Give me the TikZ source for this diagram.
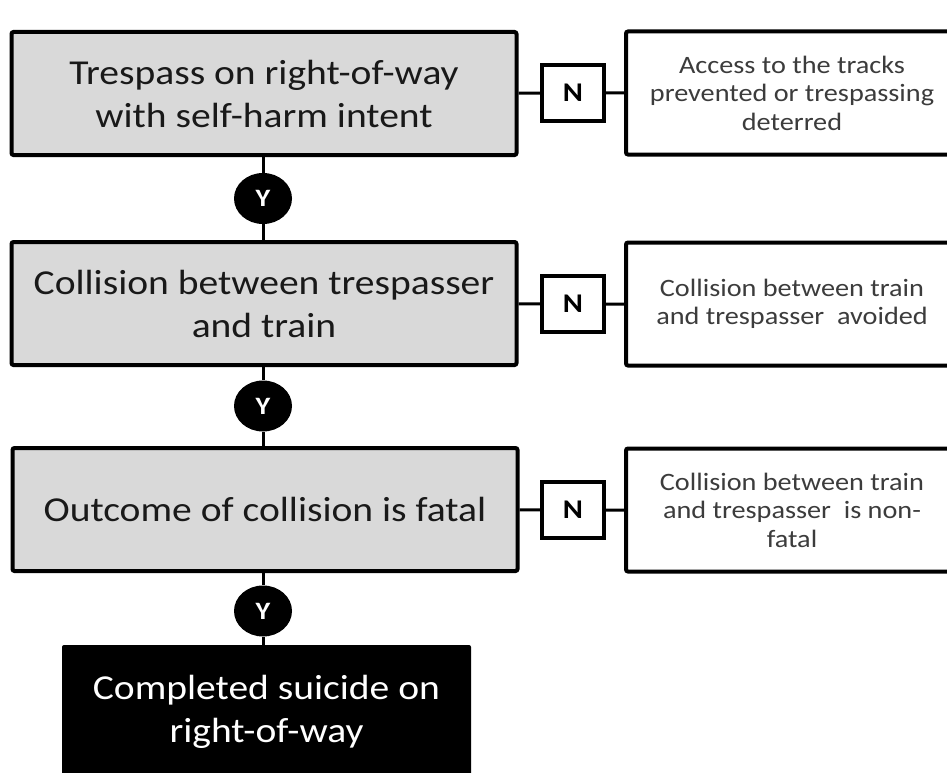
\documentclass[tikz,border=0pt]{standalone}
\usepackage{fontspec}
\setmainfont{Carlito}[FakeStretch=1.13]
\usetikzlibrary{shapes.geometric}
\definecolor{boxgray}{HTML}{D9D9D9}
\definecolor{sidetext}{HTML}{3C3C3C}
\tikzset{
  graybox/.style={rectangle,draw=black,fill=boxgray,line width=4pt,rounded corners=2pt,
    minimum width=505pt,minimum height=123pt,align=center,text=black!90,
    font=\fontsize{35}{43}\selectfont},
  sidebox/.style={rectangle,draw=black,fill=white,line width=4pt,rounded corners=2pt,
    minimum width=332pt,minimum height=123pt,align=center,text=sidetext,
    font=\fontsize{25}{28.5}\selectfont},
  nbox/.style={rectangle,draw=black,fill=white,line width=4pt,
    minimum width=62pt,minimum height=56pt,inner sep=0pt,
    font=\fontsize{27}{30}\selectfont\bfseries},
  ybox/.style={ellipse,fill=black,text=white,minimum width=58pt,minimum height=51pt,
    inner sep=0pt,font=\fontsize{25}{29}\selectfont\bfseries},
  endbox/.style={rectangle,fill=black,text=white,rounded corners=2pt,
    minimum width=409pt,minimum height=134pt,align=center,
    font=\fontsize{35}{43}\selectfont},
  link/.style={line width=3pt}
}
\begin{document}
\begin{tikzpicture}[x=1pt,y=-1pt]
\useasboundingbox[fill=white] (0,0) rectangle (947,773);
% main steps
\node (t1) [graybox] at (264,93.5) {Trespass on right-of-way\\with self-harm intent};
\node (t2) [graybox] at (264,303.5) {Collision between trespasser\\and train};
\node (t3) [graybox] at (265,509.5) {Outcome of collision is fatal};
\node (done) [endbox] at (266.5,712) {Completed suicide on\\right-of-way};
%
\node (n1) [nbox] at (573,93) {N};
\node (n2) [nbox] at (573,304) {N};
\node (n3) [nbox] at (573,510) {N};
%
\node (s1) [sidebox] at (792,93) {Access to the tracks\\prevented or trespassing\\deterred};
\node (s2) [sidebox] at (792,304) {Collision between train\\and trespasser\ \ avoided};
\node (s3) [sidebox] at (792,510) {Collision between train\\and trespasser\ \ is non-\\fatal};
%
\node (y1) [ybox] at (263,198.5) {Y};
\node (y2) [ybox] at (263,406) {Y};
\node (y3) [ybox] at (263,611) {Y};
% connectors
\draw[link] (t1) -- (n1) -- (s1);
\draw[link] (t2) -- (n2) -- (s2);
\draw[link] (t3) -- (n3) -- (s3);
\draw[link] (t1.south -| y1) -- (y1) -- (t2.north -| y1);
\draw[link] (t2.south -| y2) -- (y2) -- (t3.north -| y2);
\draw[link] (t3.south -| y3) -- (y3) -- (done.north -| y3);
\end{tikzpicture}
\end{document}
